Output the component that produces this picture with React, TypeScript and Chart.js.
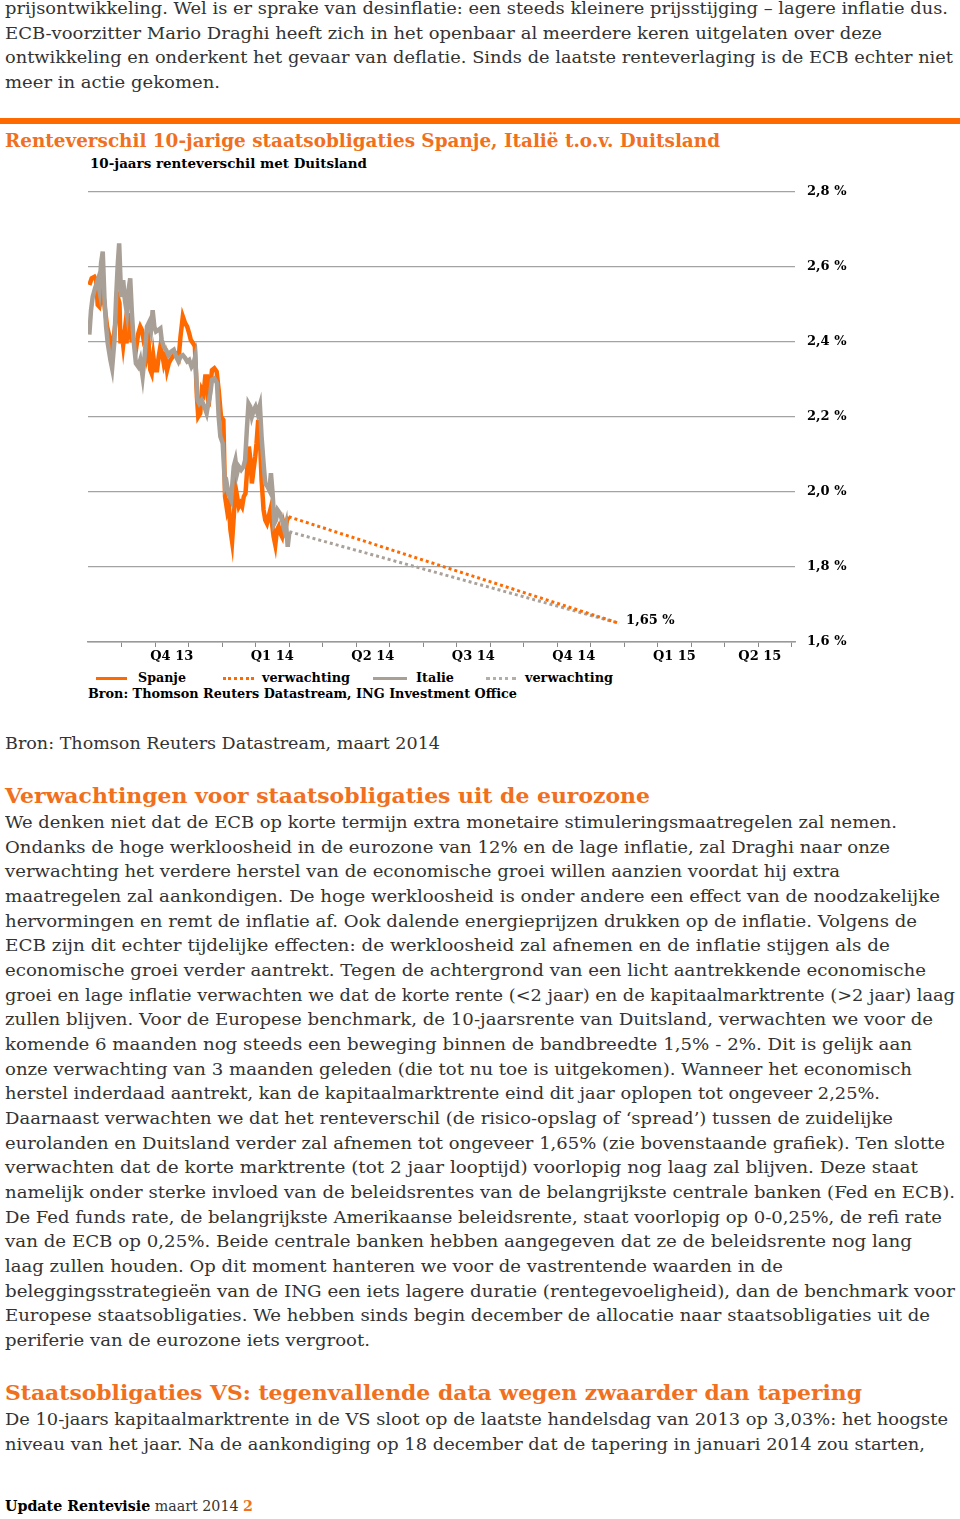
import React, { useEffect, useLayoutEffect, useRef } from 'react';
import { Chart, registerables } from 'chart.js';
Chart.register(...registerables);

// ---- chart data (x = months since 1 Sep 2013) ----
const spainMonths = [0.04,0.11,0.19,0.24,0.29,0.34,0.39,0.44,0.51,0.57,0.64,0.71,0.77,0.83,0.89,0.94,0.97,1.00,1.05,1.10,1.15,1.20,1.25,1.30,1.36,1.43,1.50,1.56,1.61,1.66,1.71,1.76,1.81,1.86,1.90,1.95,2.00,2.06,2.11,2.16,2.21,2.26,2.31,2.36,2.41,2.46,2.53,2.60,2.66,2.71,2.76,2.83,2.90,2.96,3.02,3.07,3.14,3.19,3.25,3.29,3.35,3.40,3.45,3.50,3.55,3.60,3.65,3.70,3.77,3.84,3.90,3.97,4.04,4.09,4.15,4.20,4.25,4.30,4.35,4.40,4.45,4.50,4.55,4.60,4.65,4.70,4.75,4.80,4.85,4.89,4.94,4.99,5.03,5.08,5.13,5.18,5.24,5.29,5.34,5.39,5.44,5.49,5.54,5.59,5.64,5.69,5.74,5.79,5.84,5.89,5.94,5.99];
const spainValues = [2.552,2.57,2.574,2.565,2.499,2.494,2.516,2.539,2.485,2.441,2.414,2.388,2.414,2.459,2.52,2.503,2.396,2.432,2.392,2.432,2.396,2.477,2.432,2.405,2.405,2.379,2.423,2.441,2.432,2.405,2.414,2.37,2.396,2.325,2.316,2.361,2.325,2.325,2.361,2.388,2.37,2.343,2.361,2.325,2.343,2.352,2.361,2.37,2.37,2.361,2.414,2.468,2.45,2.441,2.423,2.405,2.396,2.388,2.254,2.201,2.21,2.272,2.263,2.308,2.308,2.228,2.281,2.325,2.33,2.321,2.272,2.201,2.192,1.988,1.952,1.97,1.899,1.868,1.934,2.014,1.988,1.961,1.97,1.961,1.988,1.996,2.059,2.121,2.085,2.023,2.059,2.094,2.13,2.192,2.148,2.032,1.952,1.925,1.916,1.934,1.952,1.916,1.881,1.859,1.899,1.908,1.89,1.881,1.916,1.899,1.925,1.934];

const italyMonths = [0.04,0.09,0.14,0.21,0.29,0.34,0.39,0.44,0.49,0.54,0.59,0.67,0.72,0.79,0.84,0.89,0.93,0.97,1.00,1.05,1.10,1.16,1.21,1.26,1.31,1.36,1.43,1.50,1.56,1.63,1.68,1.76,1.83,1.88,1.93,1.98,2.03,2.10,2.16,2.20,2.26,2.33,2.40,2.48,2.56,2.63,2.70,2.76,2.83,2.90,2.96,3.02,3.09,3.15,3.20,3.27,3.32,3.39,3.47,3.54,3.59,3.65,3.70,3.77,3.85,3.90,3.95,4.02,4.09,4.14,4.19,4.27,4.35,4.40,4.45,4.50,4.57,4.64,4.69,4.74,4.79,4.84,4.89,4.95,5.00,5.06,5.13,5.18,5.24,5.29,5.36,5.41,5.46,5.51,5.56,5.61,5.66,5.73,5.79,5.86,5.91,5.96,6.01];
const italyValues = [2.42,2.485,2.52,2.543,2.565,2.539,2.61,2.641,2.52,2.441,2.396,2.352,2.33,2.405,2.52,2.61,2.663,2.565,2.52,2.565,2.512,2.477,2.539,2.57,2.477,2.405,2.343,2.334,2.352,2.308,2.352,2.441,2.454,2.432,2.485,2.441,2.428,2.432,2.436,2.405,2.388,2.379,2.365,2.374,2.379,2.361,2.348,2.361,2.365,2.357,2.348,2.352,2.334,2.343,2.361,2.245,2.236,2.245,2.228,2.21,2.236,2.263,2.299,2.303,2.29,2.201,2.148,2.13,2.014,2.023,1.996,1.979,2.068,2.085,2.05,2.068,2.059,2.068,2.085,2.165,2.236,2.228,2.201,2.219,2.228,2.21,2.232,2.148,2.076,2.023,2.014,2.005,2.05,1.996,1.916,1.925,1.952,1.943,1.925,1.899,1.916,1.854,1.894];

const spainForecastMonths = [5.99, 15.85];
const spainForecastValues = [1.934, 1.65];
const italyForecastMonths = [6.01, 15.85];
const italyForecastValues = [1.894, 1.65];
const forecastLabel = '1,65 %';

const monthTicks = [1,2,3,4,5,6,7,8,9,10,11,12,13,14,15,16,17,18,19,20,21];
const quarterCenters = [2.5, 5.5, 8.5, 11.5, 14.5, 17.5, 20.05];
const quarterLabels = ['Q4 13','Q1 14','Q2 14','Q3 14','Q4 14','Q1 15','Q2 15'];
const yMin = 1.6;
const yMax = 2.8;
const yStep = 0.2;
const xMin = 0;
const xMax = 21.1;

const ORANGE = '#ff6a00';
const GREY = '#a89f96';
const HEAD = '#f07020';
const SERIF = '"DejaVu Serif", serif';

// ---- page text ----
const topLines: [string, number][] = [
  ['prijsontwikkeling. Wel is er sprake van desinflatie: een steeds kleinere prijsstijging – lagere inflatie dus.', 948],
  ['ECB-voorzitter Mario Draghi heeft zich in het openbaar al meerdere keren uitgelaten over deze', 882],
  ['ontwikkeling en onderkent het gevaar van deflatie. Sinds de laatste renteverlaging is de ECB echter niet', 953],
  ['meer in actie gekomen.', 220],
];
const bodyLines: [string, number][] = [
  ['We denken niet dat de ECB op korte termijn extra monetaire stimuleringsmaatregelen zal nemen.', 897],
  ['Ondanks de hoge werkloosheid in de eurozone van 12% en de lage inflatie, zal Draghi naar onze', 890],
  ['verwachting het verdere herstel van de economische groei willen aanzien voordat hij extra', 840],
  ['maatregelen zal aankondigen. De hoge werkloosheid is onder andere een effect van de noodzakelijke', 940],
  ['hervormingen en remt de inflatie af. Ook dalende energieprijzen drukken op de inflatie. Volgens de', 917],
  ['ECB zijn dit echter tijdelijke effecten: de werkloosheid zal afnemen en de inflatie stijgen als de', 890],
  ['economische groei verder aantrekt. Tegen de achtergrond van een licht aantrekkende economische', 926],
  ['groei en lage inflatie verwachten we dat de korte rente (<2 jaar) en de kapitaalmarktrente (>2 jaar) laag', 955],
  ['zullen blijven. Voor de Europese benchmark, de 10-jaarsrente van Duitsland, verwachten we voor de', 933],
  ['komende 6 maanden nog steeds een beweging binnen de bandbreedte 1,5% - 2%. Dit is gelijk aan', 912],
  ['onze verwachting van 3 maanden geleden (die tot nu toe is uitgekomen). Wanneer het economisch', 912],
  ['herstel inderdaad aantrekt, kan de kapitaalmarktrente eind dit jaar oplopen tot ongeveer 2,25%.', 880],
  ['Daarnaast verwachten we dat het renteverschil (de risico-opslag of ‘spread’) tussen de zuidelijke', 893],
  ['eurolanden en Duitsland verder zal afnemen tot ongeveer 1,65% (zie bovenstaande grafiek). Ten slotte', 945],
  ['verwachten dat de korte marktrente (tot 2 jaar looptijd) voorlopig nog laag zal blijven. Deze staat', 918],
  ['namelijk onder sterke invloed van de beleidsrentes van de belangrijkste centrale banken (Fed en ECB).', 955],
  ['De Fed funds rate, de belangrijkste Amerikaanse beleidsrente, staat voorlopig op 0-0,25%, de refi rate', 942],
  ['van de ECB op 0,25%. Beide centrale banken hebben aangegeven dat ze de beleidsrente nog lang', 912],
  ['laag zullen houden. Op dit moment hanteren we voor de vastrentende waarden in de', 783],
  ['beleggingsstrategieën van de ING een iets lagere duratie (rentegevoeligheid), dan de benchmark voor', 955],
  ['Europese staatsobligaties. We hebben sinds begin december de allocatie naar staatsobligaties uit de', 930],
  ['periferie van de eurozone iets vergroot.', 370],
];
const vsLines: [string, number][] = [
  ['De 10-jaars kapitaalmarktrente in de VS sloot op de laatste handelsdag van 2013 op 3,03%: het hoogste', 948],
  ['niveau van het jaar. Na de aankondiging op 18 december dat de tapering in januari 2014 zou starten,', 925],
];

type FitProps = {
  left: number; right: number; cy: number; size: number; weight?: number;
  color?: string; children: React.ReactNode;
};
function Fit({ left, right, cy, size, weight = 400, color = '#333', children }: FitProps) {
  const ref = useRef<HTMLSpanElement>(null);
  useLayoutEffect(() => {
    const el = ref.current;
    if (!el) return;
    el.style.transform = 'none';
    const w = el.getBoundingClientRect().width;
    if (w > 0) el.style.transform = `scaleX(${(right - left) / w})`;
  });
  const lh = Math.round(size * 1.4);
  return (
    <span
      ref={ref}
      style={{
        position: 'absolute', left, top: cy - lh / 2, lineHeight: lh + 'px', height: lh,
        whiteSpace: 'nowrap', fontFamily: SERIF, fontSize: size, fontWeight: weight,
        color, transformOrigin: '0 0', display: 'inline-block',
      }}
    >
      {children}
    </span>
  );
}

function Lines({ lines, cy0, step = 24.67 }: { lines: [string, number][]; cy0: number; step?: number }) {
  return (
    <>
      {lines.map(([t, r], i) => (
        <Fit key={i} left={5} right={r} cy={cy0 + i * step} size={17}>{t}</Fit>
      ))}
    </>
  );
}

function ChartCanvas() {
  const ref = useRef<HTMLCanvasElement>(null);
  useEffect(() => {
    if (!ref.current) return;
    const pts = (xs: number[], ys: number[]) => xs.map((x, i) => ({ x, y: ys[i] }));
    const endLabel = {
      id: 'endLabel',
      afterDatasetsDraw(chart: any) {
        const meta = chart.getDatasetMeta(3);
        const p = meta.data[meta.data.length - 1];
        if (!p) return;
        const ctx = chart.ctx;
        ctx.save();
        ctx.font = `bold 13px ${SERIF}`;
        ctx.fillStyle = '#000';
        ctx.textBaseline = 'middle';
        ctx.textAlign = 'left';
        ctx.fillText(forecastLabel, p.x + 7, p.y - 3);
        ctx.restore();
      },
    };
    const chart = new Chart(ref.current, {
      type: 'line',
      data: {
        datasets: [
          { label: 'Italie', data: pts(italyMonths, italyValues), borderColor: GREY, borderWidth: 4.5, pointRadius: 0, tension: 0 },
          { label: 'Spanje', data: pts(spainMonths, spainValues), borderColor: ORANGE, borderWidth: 4.5, pointRadius: 0, tension: 0 },
          { label: 'verwachting', data: pts(spainForecastMonths, spainForecastValues), borderColor: ORANGE, borderWidth: 3, borderDash: [3, 3], pointRadius: 0 },
          { label: 'verwachting', data: pts(italyForecastMonths, italyForecastValues), borderColor: '#aaa29a', borderWidth: 3, borderDash: [3, 3], pointRadius: 0 },
        ],
      },
      options: {
        animation: false,
        responsive: false,
        maintainAspectRatio: false,
        layout: { padding: { left: 88, top: 22, right: 0, bottom: 0 } },
        plugins: { legend: { display: false }, tooltip: { enabled: false } },
        scales: {
          x: {
            type: 'linear',
            min: xMin,
            max: xMax,
            afterBuildTicks: (s: any) => {
              s.ticks = [...monthTicks, ...quarterCenters].sort((a, b) => a - b).map((v) => ({ value: v }));
            },
            afterFit: (s: any) => { s.height = 28; },
            ticks: {
              autoSkip: false,
              maxRotation: 0,
              minRotation: 0,
              padding: 2,
              color: '#000',
              font: { family: SERIF, size: 13, weight: 'bold' },
              callback: (v: any) => {
                const i = quarterCenters.indexOf(Number(v));
                return i >= 0 ? quarterLabels[i] : '';
              },
            },
            grid: {
              drawOnChartArea: false,
              tickLength: 5,
              lineWidth: 1,
              tickColor: (ctx: any) => (ctx.tick && quarterCenters.includes(ctx.tick.value) ? 'rgba(0,0,0,0)' : '#888'),
            },
            border: { display: true, color: '#999', width: 1.5 },
          },
          y: {
            type: 'linear',
            position: 'right',
            min: yMin,
            max: yMax,
            afterFit: (s: any) => { s.width = 165; },
            ticks: {
              stepSize: yStep,
              padding: 12,
              color: '#000',
              font: { family: SERIF, size: 13, weight: 'bold' },
              callback: (v: any) => Number(v).toFixed(1).replace('.', ',') + ' %',
            },
            grid: { color: '#a3a3a3', lineWidth: 1.2, drawTicks: false },
            border: { display: false },
          },
        },
      },
      plugins: [endLabel],
    } as any);
    return () => chart.destroy();
  }, []);
  return <canvas ref={ref} width={960} height={500} style={{ position: 'absolute', left: 0, top: 170, width: 960, height: 500 }} />;
}

export default function App() {
  return (
    <div style={{ position: 'relative', width: 960, height: 1519, overflow: 'hidden', background: '#fff' }}>
      <style>{'body{margin:0;background:#fff}'}</style>
      <Lines lines={topLines} cy0={8} />

      <div style={{ position: 'absolute', left: 0, top: 118, width: 960, height: 6, background: ORANGE }} />
      <Fit left={5} right={720} cy={140} size={19} weight={700} color={HEAD}>
        Renteverschil 10-jarige staatsobligaties Spanje, Italië t.o.v. Duitsland
      </Fit>
      <Fit left={90} right={367} cy={164} size={13} weight={700} color="#000">
        10-jaars renteverschil met Duitsland
      </Fit>

      <ChartCanvas />

      <div style={{ position: 'absolute', left: 96, top: 677, width: 31, height: 3, background: ORANGE }} />
      <Fit left={138} right={186} cy={678} size={12} weight={700} color="#000">Spanje</Fit>
      <div style={{ position: 'absolute', left: 223, top: 677, width: 31, height: 0, borderTop: `3px dotted ${ORANGE}` }} />
      <Fit left={262} right={350} cy={678} size={12} weight={700} color="#000">verwachting</Fit>
      <div style={{ position: 'absolute', left: 373, top: 677, width: 34, height: 3, background: GREY }} />
      <Fit left={416} right={454} cy={678} size={12} weight={700} color="#000">Italie</Fit>
      <div style={{ position: 'absolute', left: 486, top: 677, width: 30, height: 0, borderTop: '3px dotted #b5aea7' }} />
      <Fit left={525} right={613} cy={678} size={12} weight={700} color="#000">verwachting</Fit>
      <Fit left={88} right={517} cy={694} size={12} weight={700} color="#000">
        Bron: Thomson Reuters Datastream, ING Investment Office
      </Fit>

      <Fit left={5} right={440} cy={743} size={17}>Bron: Thomson Reuters Datastream, maart 2014</Fit>

      <Fit left={5} right={650} cy={795} size={21} weight={700} color={HEAD}>
        Verwachtingen voor staatsobligaties uit de eurozone
      </Fit>
      <Lines lines={bodyLines} cy0={822} />

      <Fit left={5} right={862} cy={1392} size={21} weight={700} color={HEAD}>
        Staatsobligaties VS: tegenvallende data wegen zwaarder dan tapering
      </Fit>
      <Lines lines={vsLines} cy0={1419} />

      <Fit left={5} right={253} cy={1506} size={15} weight={700} color="#000">
        Update Rentevisie<span style={{ fontWeight: 400, color: '#333' }}> maart 2014 </span>
        <span style={{ color: HEAD }}>2</span>
      </Fit>
    </div>
  );
}
